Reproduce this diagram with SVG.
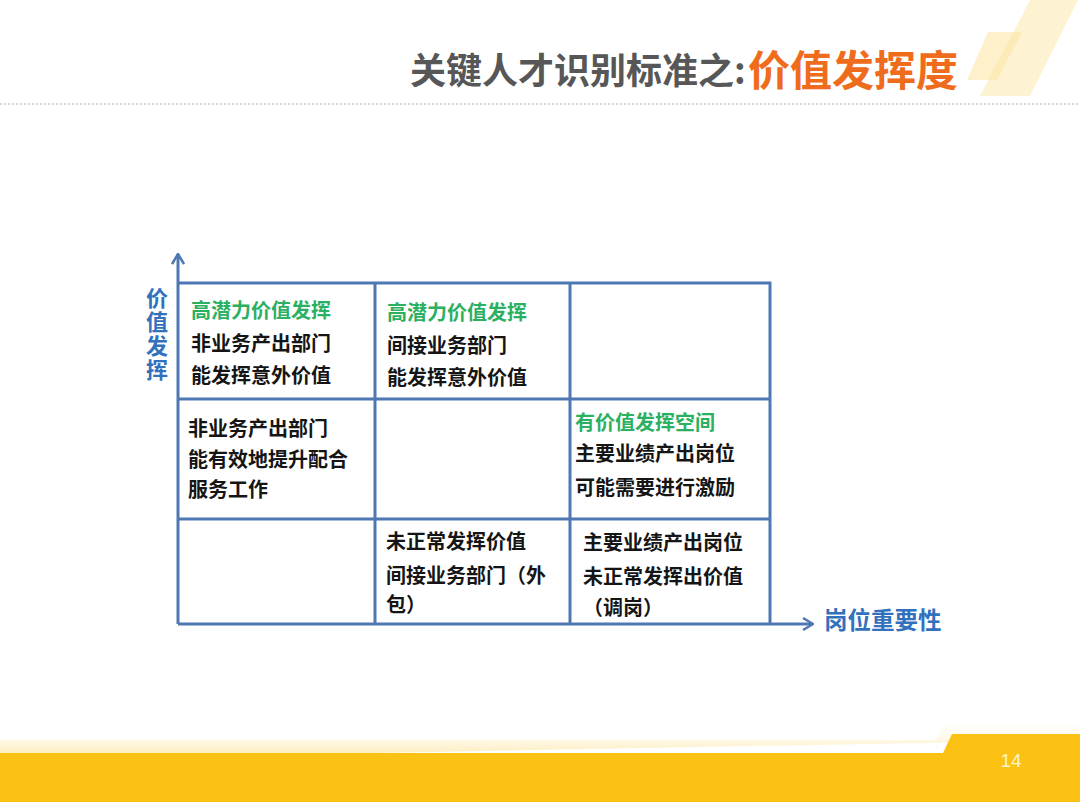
<svg xmlns="http://www.w3.org/2000/svg" width="1080" height="802" viewBox="0 0 1080 802">
<style>
  .t{font-family:"Noto Sans CJK SC","Noto Sans",sans-serif;font-weight:700;font-size:20px;fill:#151515}
  .g{fill:#2bb062}
  .grid{stroke:#4e78b4;stroke-width:3;fill:none}
  .axis{stroke:#4e78b4;stroke-width:3;fill:none}
  .lbl{font-family:"Noto Sans CJK SC","Noto Sans",sans-serif;font-weight:700;fill:#3271bd}
</style>
<defs>
  <marker id="arr" viewBox="0 0 12 14" refX="11" refY="7" markerWidth="12" markerHeight="14" markerUnits="userSpaceOnUse" orient="auto">
    <path d="M1,1 L11,7 L1,13" fill="none" stroke="#4e78b4" stroke-width="2.5"/>
  </marker>
  <linearGradient id="glow" x1="0" y1="0" x2="0" y2="1">
    <stop offset="0" stop-color="#fff8e0" stop-opacity="0"/>
    <stop offset="1" stop-color="#fbe3a0"/>
  </linearGradient>
</defs>
<rect width="1080" height="802" fill="#ffffff"/>

<g id="decor-top">
  <polygon points="1030,0 1078,0 1030,96 980,96" fill="#fdf0c8" opacity="0.8"/>
  <polygon points="988,32 1022,32 997,80 967,80" fill="#fbe3a0" opacity="0.55"/>
</g>

<g id="title">
  <text x="410" y="84" font-family="Noto Sans CJK SC,sans-serif" font-weight="700" font-size="36" fill="#575757">关键人才识别标准之:</text>
  <text x="748" y="86" font-family="Noto Sans CJK SC,sans-serif" font-weight="700" font-size="42" fill="#ef6c1c">价值发挥度</text>
</g>
<line x1="0" y1="104" x2="1080" y2="104" stroke="#b0b0b0" stroke-width="1" stroke-dasharray="2,2"/>

<g id="connectors">
  <line class="axis" x1="178" y1="624" x2="178" y2="254" marker-end="url(#arr)"/>
  <line class="axis" x1="178" y1="624" x2="813" y2="624" marker-end="url(#arr)"/>
  <path class="grid" d="M178,283 H770 V624 M375,283 V624 M570,283 V624 M178,399 H770 M178,519 H770"/>
</g>

<g id="axis-y-label">
  <text class="lbl" x="157" y="287" font-size="22" writing-mode="tb" letter-spacing="2">价值发挥</text>
</g>
<g id="axis-x-label">
  <text class="lbl" x="824" y="629" font-size="23.5">岗位重要性</text>
</g>

<g id="cell-1-1">
  <text class="t g" x="191" y="318">高潜力价值发挥</text>
  <text class="t" x="191" y="351">非业务产出部门</text>
  <text class="t" x="191" y="383">能发挥意外价值</text>
</g>
<g id="cell-1-2">
  <text class="t g" x="387" y="320">高潜力价值发挥</text>
  <text class="t" x="387" y="353">间接业务部门</text>
  <text class="t" x="387" y="385">能发挥意外价值</text>
</g>
<g id="cell-1-3"></g>
<g id="cell-2-1">
  <text class="t" x="188" y="436">非业务产出部门</text>
  <text class="t" x="188" y="467">能有效地提升配合</text>
  <text class="t" x="188" y="497">服务工作</text>
</g>
<g id="cell-2-2"></g>
<g id="cell-2-3">
  <text class="t g" x="575" y="430">有价值发挥空间</text>
  <text class="t" x="575" y="461">主要业绩产出岗位</text>
  <text class="t" x="575" y="495">可能需要进行激励</text>
</g>
<g id="cell-3-1"></g>
<g id="cell-3-2">
  <text class="t" x="386" y="549">未正常发挥价值</text>
  <text class="t" x="386" y="583">间接业务部门（外</text>
  <text class="t" x="386" y="612">包）</text>
</g>
<g id="cell-3-3">
  <text class="t" x="583" y="550">主要业绩产出岗位</text>
  <text class="t" x="583" y="584">未正常发挥出价值</text>
  <text class="t" x="583" y="615">（调岗）</text>
</g>

<g id="footer">
  <path d="M0,740 L936,740 L945,721 L1080,721 L1080,740 L0,760 Z" fill="url(#glow)" opacity="0.9"/>
  <path d="M0,753 L943,753 L952,734 L1080,734 L1080,802 L0,802 Z" fill="#fbc214"/>
  <text x="1011" y="767" text-anchor="middle" font-family="Liberation Sans,Arial,sans-serif" font-size="19" fill="#fff3c8">14</text>
</g>
</svg>
